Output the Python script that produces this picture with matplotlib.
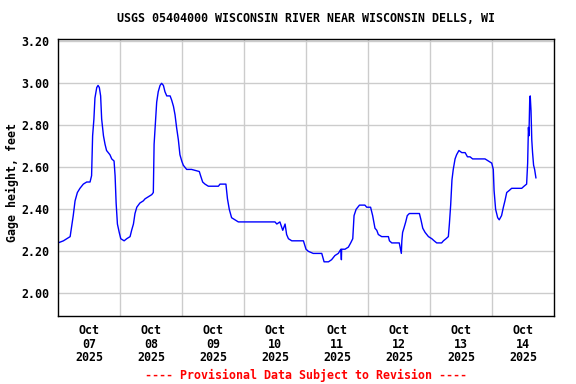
import matplotlib
matplotlib.use("Agg")
import matplotlib.pyplot as plt
import numpy as np

# hours since 2025-10-07 00:00, gage height in feet
hours = [
    0.0, 2.1, 3.4, 4.7, 5.3, 5.9, 6.6, 7.5, 8.5, 9.8, 11.1, 12.4, 13.0, 13.4,
    13.9, 14.3, 15.0, 15.5, 16.0, 16.5, 16.9, 17.6, 18.2, 18.8, 20.1, 20.8,
    21.7, 22.1, 22.5, 23.0, 23.7, 24.3, 25.6, 26.6, 27.9, 28.5, 29.2, 29.8,
    30.5, 31.7, 33.0, 33.7, 35.0, 36.3, 36.9, 37.2, 37.6, 38.2, 38.8, 39.5,
    40.1, 40.8, 41.4, 42.1, 43.4, 44.0, 44.7, 45.3, 45.9, 46.6, 47.2, 47.9,
    48.5, 49.8, 51.7, 54.7, 55.2, 56.0, 56.9, 58.2, 60.1, 62.1, 62.7, 65.0,
    65.6, 66.3, 67.2, 68.5, 69.8, 84.0, 84.7, 85.9, 87.0, 87.9, 88.5, 89.2,
    90.5, 95.0, 96.0, 96.9, 98.8, 102.1, 103.0, 104.7, 105.9, 107.2, 108.5,
    109.5, 109.7, 109.8, 111.1, 112.4, 113.3, 114.1, 114.6, 115.4, 116.7,
    118.8, 119.5, 121.0, 121.8, 122.7, 123.4, 124.0, 125.3, 127.9, 128.3,
    129.2, 132.1, 132.6, 132.9, 133.1, 133.4, 133.9, 134.6, 135.2, 136.0,
    136.9, 139.9, 140.5, 141.2, 142.1, 143.4, 144.7, 145.6, 146.6, 148.5,
    149.2, 150.2, 151.1, 151.5, 152.0, 152.5, 153.0, 153.7, 154.3, 155.2,
    156.3, 157.6, 158.5, 159.5, 160.5, 163.4, 165.3, 166.6, 167.9, 168.5,
    168.8, 169.4, 170.2, 170.8, 171.7, 172.4, 173.0, 173.7, 174.7, 175.6,
    176.3, 179.5, 180.4, 181.4, 181.8, 182.1, 182.3, 182.6, 182.8, 183.1,
    183.4, 183.7, 184.1, 184.5, 185.0,
]
stage = [
    2.24, 2.25, 2.26, 2.27, 2.32, 2.37, 2.44, 2.48, 2.50, 2.52, 2.53, 2.53,
    2.56, 2.75, 2.83, 2.93, 2.98, 2.99, 2.98, 2.94, 2.83, 2.75, 2.71, 2.68,
    2.66, 2.64, 2.63, 2.56, 2.43, 2.33, 2.29, 2.26, 2.25, 2.26, 2.27, 2.30,
    2.33, 2.38, 2.41, 2.43, 2.44, 2.45, 2.46, 2.47, 2.48, 2.71, 2.79, 2.91,
    2.96, 2.99, 3.00, 2.99, 2.96, 2.94, 2.94, 2.92, 2.89, 2.85, 2.79, 2.73,
    2.66, 2.63, 2.61, 2.59, 2.59, 2.58, 2.56, 2.53, 2.52, 2.51, 2.51, 2.51,
    2.52, 2.52, 2.45, 2.40, 2.36, 2.35, 2.34, 2.34, 2.33, 2.34, 2.30, 2.33,
    2.28, 2.26, 2.25, 2.25, 2.21, 2.20, 2.19, 2.19, 2.15, 2.15, 2.16, 2.18,
    2.19, 2.21, 2.16, 2.21, 2.21, 2.22, 2.24, 2.26, 2.37, 2.40, 2.42, 2.42,
    2.41, 2.41, 2.37, 2.31, 2.30, 2.28, 2.27, 2.27, 2.25, 2.24, 2.24, 2.21,
    2.19, 2.25, 2.29, 2.31, 2.34, 2.37, 2.38, 2.38, 2.38, 2.35, 2.31, 2.29,
    2.27, 2.26, 2.25, 2.24, 2.24, 2.25, 2.26, 2.27, 2.33, 2.42, 2.54, 2.59,
    2.64, 2.66, 2.68, 2.67, 2.67, 2.65, 2.65, 2.64, 2.64, 2.64, 2.63, 2.62,
    2.59, 2.49, 2.40, 2.36, 2.35, 2.37, 2.41, 2.44, 2.48, 2.49, 2.50, 2.50,
    2.50, 2.51, 2.52, 2.62, 2.79, 2.75, 2.92, 2.94, 2.87, 2.73, 2.67, 2.61,
    2.59, 2.55,
]
day_labels = ["Oct\n07\n2025", "Oct\n08\n2025", "Oct\n09\n2025", "Oct\n10\n2025",
              "Oct\n11\n2025", "Oct\n12\n2025", "Oct\n13\n2025", "Oct\n14\n2025"]
y_ticks = [2.00, 2.20, 2.40, 2.60, 2.80, 3.00, 3.20]

mono = "DejaVu Sans Mono"
fs = 8.4

fig = plt.figure(figsize=(5.76, 3.84), dpi=100)
ax = fig.add_axes([58 / 576, 1 - 316 / 384, 496 / 576, 277 / 384])

days = np.array(hours) / 24.0
ax.plot(days, stage, color="#0000ff", linewidth=1.0)

ax.set_xlim(0, 8)
ax.set_ylim(1.892, 3.211)

ax.set_xticks(np.arange(len(day_labels)) + 0.5)
ax.set_xticklabels(day_labels, fontfamily=mono, fontweight="bold",
                   fontsize=fs, linespacing=1.02)
ax.set_xticks(np.arange(1, 8), minor=True)
ax.set_yticks(y_ticks)
ax.set_yticklabels([f"{v:.2f}" for v in y_ticks], fontfamily=mono,
                   fontweight="bold", fontsize=fs)

ax.grid(True, which="minor", axis="x", color="#cccccc", linewidth=1)
ax.grid(True, which="major", axis="y", color="#cccccc", linewidth=1)
ax.tick_params(which="both", length=0)
ax.tick_params(axis="x", pad=6)
ax.tick_params(axis="y", pad=6)
for sp in ax.spines.values():
    sp.set_linewidth(1.0)
ax.set_axisbelow(True)

fig.text(306 / 576, 1 - 19 / 384,
         "USGS 05404000 WISCONSIN RIVER NEAR WISCONSIN DELLS, WI",
         ha="center", va="center", fontfamily=mono, fontweight="bold", fontsize=fs)
fig.text(12 / 576, 1 - 183 / 384, "Gage height, feet", rotation=90,
         ha="center", va="center", fontfamily=mono, fontweight="bold", fontsize=fs)
fig.text(306 / 576, 1 - 375 / 384,
         "---- Provisional Data Subject to Revision ----",
         ha="center", va="center", color="red", fontfamily=mono,
         fontweight="bold", fontsize=fs)

fig.savefig("out.png", dpi=100)
